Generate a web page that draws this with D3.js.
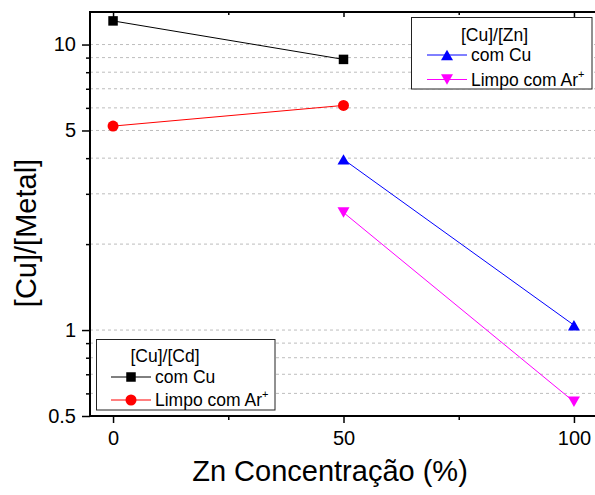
<!DOCTYPE html>
<html>
<head>
<meta charset="utf-8">
<script src="https://cdn.jsdelivr.net/npm/d3@7"></script>
<style>
  html, body { margin: 0; padding: 0; background: #fff; }
  svg { display: block; font-family: "Liberation Sans", Arial, sans-serif; }
</style>
</head>
<body>
<svg id="chart" width="595" height="495"></svg>
<script>
// Zn concentration (%) on the x axis
const znCd = [0, 50];
const znZn = [50, 100];

// [Cu]/[Cd] series
const cdComCu = [12.1, 8.87];
const cdLimpo = [5.18, 6.12];

// [Cu]/[Zn] series
const znComCu = [3.96, 1.04];
const znLimpo = [2.58, 0.561];

// axis ticks
const xMajor = [0, 50, 100];
const xMinor = [25, 75];
const yMajor = [0.5, 1, 5, 10];
const yMinor = [0.6, 0.7, 0.8, 0.9, 2, 3, 4, 6, 7, 8, 9];

const svg = d3.select("#chart");
const plotLeft = 90, plotTop = 12, plotRight = 597, plotBottom = 416;

const x = d3.scaleLinear().domain([-5, 105]).range([plotLeft, plotRight]);
const y = d3.scaleLog().domain([0.5, 13]).range([plotBottom, plotTop]);

// dashed grid lines at every labelled and minor step
svg.append("g")
  .selectAll("line")
  .data(yMajor.concat(yMinor).filter(v => v > 0.5))
  .join("line")
  .attr("x1", plotLeft).attr("x2", plotRight)
  .attr("y1", d => y(d)).attr("y2", d => y(d))
  .attr("stroke", "#bdbdbd")
  .attr("stroke-width", 1)
  .attr("stroke-dasharray", "3,3");

// left axis
const yAxisMajor = d3.axisLeft(y).tickValues(yMajor).tickFormat(d3.format("")).tickSize(8).tickPadding(6);
const yAxisMinor = d3.axisLeft(y).tickValues(yMinor).tickFormat("").tickSize(4);
svg.append("g").attr("transform", `translate(${plotLeft},0)`).call(yAxisMajor);
svg.append("g").attr("transform", `translate(${plotLeft},0)`).call(yAxisMinor);

// bottom axis
const xAxisMajor = d3.axisBottom(x).tickValues(xMajor).tickSize(7).tickPadding(8);
const xAxisMinor = d3.axisBottom(x).tickValues(xMinor).tickFormat("").tickSize(4);
svg.append("g").attr("transform", `translate(0,${plotBottom})`).call(xAxisMajor);
svg.append("g").attr("transform", `translate(0,${plotBottom})`).call(xAxisMinor);

// top axis, ticks pointing inward
svg.append("g").attr("transform", `translate(0,${plotTop})`)
  .call(d3.axisBottom(x).tickValues(xMajor).tickFormat("").tickSize(5));
svg.append("g").attr("transform", `translate(0,${plotTop})`)
  .call(d3.axisBottom(x).tickValues(xMinor).tickFormat("").tickSize(3));

svg.selectAll(".domain").remove();
svg.selectAll(".tick line").attr("stroke", "#000").attr("stroke-width", 1.5);
svg.selectAll(".tick text").attr("font-size", 20).attr("fill", "#000")
  .attr("font-family", "Liberation Sans, Arial, sans-serif");

// frame
svg.append("path")
  .attr("d", `M${plotRight},${plotTop}H${plotLeft}V${plotBottom}H${plotRight}`)
  .attr("fill", "none").attr("stroke", "#000").attr("stroke-width", 2);

// marker shapes
function marker(kind, s) {
  const h = s * 0.87;
  if (kind === "square") return `M${-s/2},${-s/2}h${s}v${s}h${-s}Z`;
  if (kind === "up") return `M0,${-h/2}L${s/2},${h/2}L${-s/2},${h/2}Z`;
  if (kind === "down") return `M0,${h/2}L${s/2},${-h/2}L${-s/2},${-h/2}Z`;
  return null;
}

const series = [
  { xs: znCd, ys: cdComCu, color: "#000000", kind: "square" },
  { xs: znCd, ys: cdLimpo, color: "#ff0000", kind: "circle" },
  { xs: znZn, ys: znComCu, color: "#0000ff", kind: "up" },
  { xs: znZn, ys: znLimpo, color: "#ff00ff", kind: "down" }
];

const line = d3.line().x(d => x(d[0])).y(d => y(d[1]));

function drawMarker(g, kind, color, cx, cy) {
  if (kind === "circle") {
    g.append("circle").attr("cx", cx).attr("cy", cy).attr("r", 5.5).attr("fill", color);
  } else {
    const s = kind === "square" ? 9.5 : 12;
    g.append("path").attr("d", marker(kind, s))
      .attr("transform", `translate(${cx},${cy})`).attr("fill", color);
  }
}

series.forEach(sr => {
  const pts = sr.xs.map((v, i) => [v, sr.ys[i]]);
  const g = svg.append("g");
  g.append("path").attr("d", line(pts)).attr("fill", "none")
    .attr("stroke", sr.color).attr("stroke-width", 1);
  pts.forEach(p => drawMarker(g, sr.kind, sr.color, x(p[0]), y(p[1])));
});

// legends
function legend(box, title, items) {
  const g = svg.append("g");
  g.append("rect").attr("x", box.x).attr("y", box.y).attr("width", box.w).attr("height", box.h)
    .attr("fill", "#fff").attr("stroke", "#222").attr("stroke-width", 1);
  g.append("text").attr("x", box.titleX).attr("y", box.titleY).attr("text-anchor", "middle")
    .attr("font-size", 17.5).text(title);
  items.forEach((it, i) => {
    const ly = box.rowY[i];
    g.append("line").attr("x1", box.lx1).attr("x2", box.lx2).attr("y1", ly).attr("y2", ly)
      .attr("stroke", it.color).attr("stroke-width", 1);
    drawMarker(g, it.kind, it.color, (box.lx1 + box.lx2) / 2, ly);
    const t = g.append("text").attr("x", box.tx).attr("y", ly + 6).attr("font-size", 17.5);
    t.append("tspan").text(it.label);
    if (it.sup) t.append("tspan").attr("font-size", 11).attr("dy", -8).text(it.sup);
  });
}

legend({ x: 411.5, y: 17.5, w: 180.5, h: 71.5, titleX: 494.5, titleY: 41,
         rowY: [55, 79.5], lx1: 427, lx2: 467, tx: 471 },
  "[Cu]/[Zn]",
  [{ label: "com Cu", color: "#0000ff", kind: "up" },
   { label: "Limpo com Ar", sup: "+", color: "#ff00ff", kind: "down" }]);

legend({ x: 96.5, y: 339.5, w: 178.5, h: 70.5, titleX: 165, titleY: 362,
         rowY: [377, 400], lx1: 111, lx2: 151, tx: 155 },
  "[Cu]/[Cd]",
  [{ label: "com Cu", color: "#000000", kind: "square" },
   { label: "Limpo com Ar", sup: "+", color: "#ff0000", kind: "circle" }]);

// axis titles
svg.append("text").attr("x", 330).attr("y", 481).attr("text-anchor", "middle")
  .attr("font-size", 29).text("Zn Concentração (%)");
svg.append("text")
  .attr("transform", "translate(36,233) rotate(-90)")
  .attr("text-anchor", "middle").attr("font-size", 29).text("[Cu]/[Metal]");
</script>
</body>
</html>
